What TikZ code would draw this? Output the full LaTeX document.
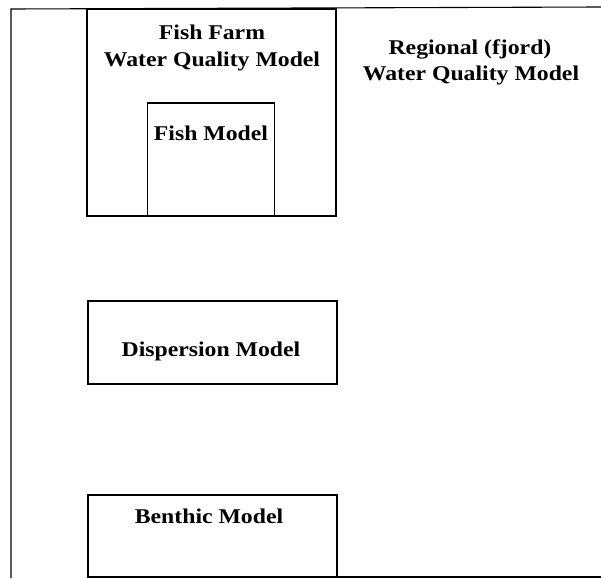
\documentclass[tikz,border=0pt]{standalone}
\usepackage{fontspec}
\setmainfont[FakeStretch=1.13]{Liberation Serif}
\begin{document}
\begin{tikzpicture}[x=1pt,y=-1pt,
  box/.style={draw=black, line width=1.1pt, rectangle, inner sep=0pt},
  lbl/.style={font=\fontsize{21}{25}\selectfont\bfseries, anchor=base, inner sep=0pt},
  frame/.style={draw=black, line width=1.1pt}]
\useasboundingbox (0,0) rectangle (601,578);
% outer frame
\coordinate (tl) at (11,9);
\coordinate (bl) at (11,578);
\coordinate (tr) at (601,7);
\coordinate (br) at (601,577);
\coordinate (bs) at (88,577);
\draw[frame] (bl) -- (tl) -- (tr);
\draw[frame] (bs) -- (br);
% boxes
\node[box, minimum width=249pt, minimum height=207pt] (farm) at (211.5,112.5) {};
\node[box, minimum width=127pt, minimum height=113pt] (fish) at (211,159.5) {};
\node[box, minimum width=249pt, minimum height=83pt] (disp) at (212.5,342.5) {};
\node[box, minimum width=249pt, minimum height=82pt] (bent) at (212.5,536) {};
% labels
\node[lbl] (t1) at (212,39) {Fish Farm};
\node[lbl] (t2) at (212,66) {Water Quality Model};
\node[lbl] (t3) at (470,55) {Regional (fjord)};
\node[lbl] (t4) at (471,80) {Water Quality Model};
\node[lbl] (t5) at (211,140) {Fish Model};
\node[lbl] (t6) at (211,356) {Dispersion Model};
\node[lbl] (t7) at (209,523) {Benthic Model};
\end{tikzpicture}
\end{document}
